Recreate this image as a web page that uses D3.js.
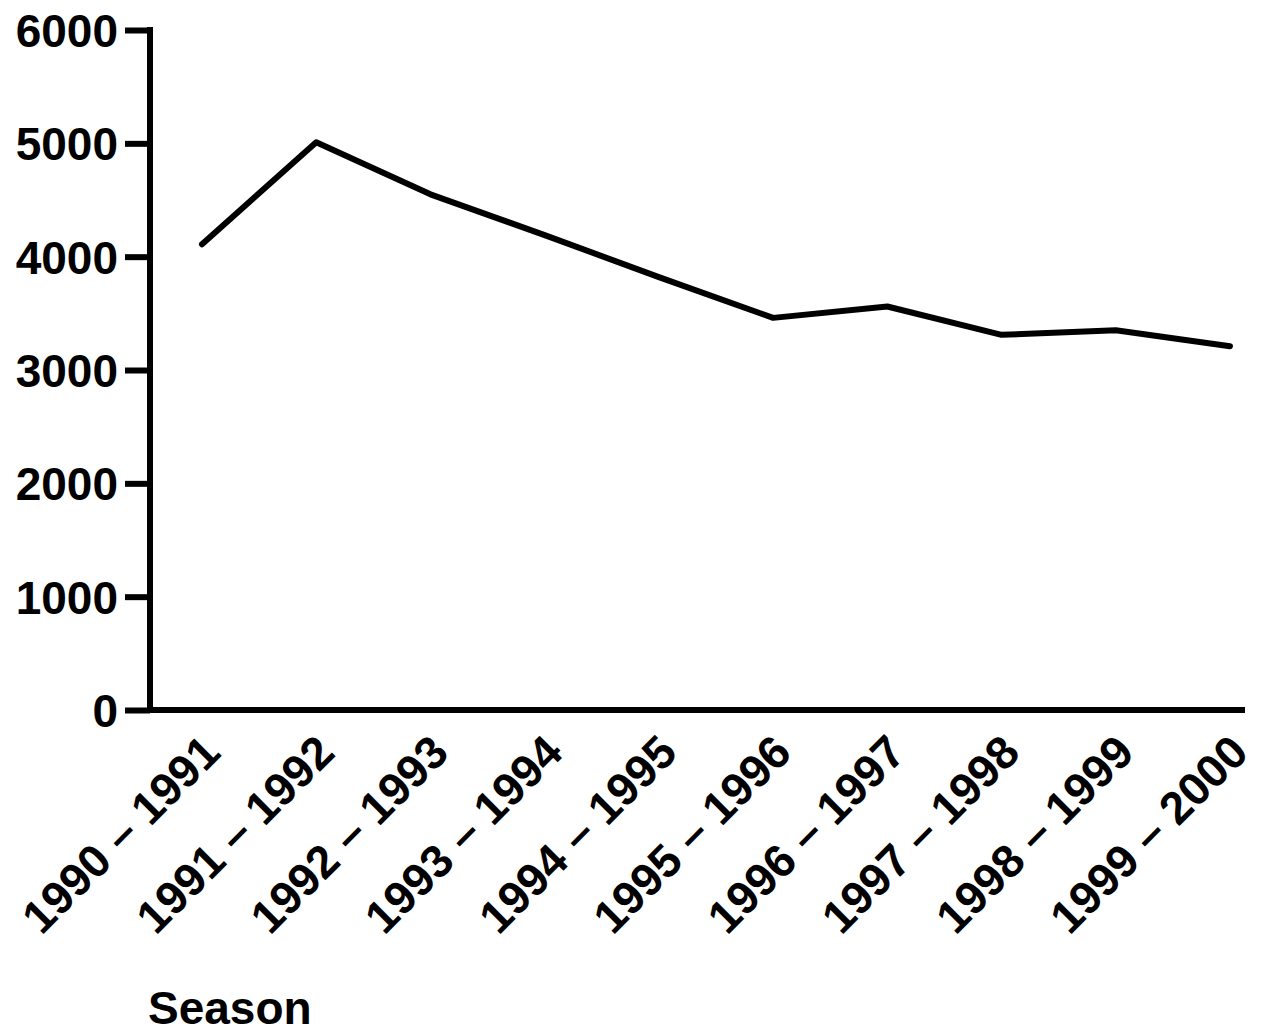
<!DOCTYPE html>
<html>
<head>
<meta charset="utf-8">
<script src="https://cdn.jsdelivr.net/npm/d3@7"></script>
<style>
	body { margin: 0; background: #fff; }
	text { font-family: "Liberation Sans", Arial, sans-serif; font-weight: bold; fill: #000; }
</style>
</head>
<body>
<script>
// seasons along the bottom
const seasons = ["1990 – 1991", "1991 – 1992", "1992 – 1993", "1993 – 1994", "1994 – 1995",
	"1995 – 1996", "1996 – 1997", "1997 – 1998", "1998 – 1999", "1999 – 2000"];
// values
const counts = [4110, 5010, 4550, 4190, 3820, 3460, 3560, 3310, 3350, 3210];
const yTicks = [0, 1000, 2000, 3000, 4000, 5000, 6000];
const xTitle = "Season";

const width = 1266;
const height = 1034;
const axisX = 150;
const plotTop = 30;
const plotBottom = 710;

const svg = d3.select("body")
	.append("svg")
	.attr("width", width)
	.attr("height", height);

const x = d3.scalePoint()
	.domain(seasons)
	.range([202, 1230]);

const y = d3.scaleLinear()
	.domain([0, 6000])
	.range([plotBottom, plotTop]);

// x axis: just the line plus rotated labels
const xAxis = svg.append("g")
	.attr("transform", `translate(0,${plotBottom})`)
	.call(d3.axisBottom(x).tickSize(0).tickPadding(0));
xAxis.select(".domain")
	.attr("d", `M${axisX},0H1245`)
	.attr("stroke", "#000")
	.attr("stroke-width", 6);
xAxis.selectAll(".tick text")
	.attr("font-size", 46)
	.attr("text-anchor", "end")
	.attr("dy", null)
	.attr("y", null)
	.attr("transform", "translate(20,45) rotate(-45)");

// y axis
const yAxis = svg.append("g")
	.attr("transform", `translate(${axisX},0)`)
	.call(d3.axisLeft(y).tickValues(yTicks).tickFormat(d3.format("d"))
		.tickSize(25).tickSizeOuter(0).tickPadding(7));
yAxis.select(".domain")
	.attr("stroke", "#000")
	.attr("stroke-width", 6)
	.attr("d", `M0,${plotBottom + 3}V${plotTop - 3}`);
yAxis.selectAll(".tick line")
	.attr("stroke", "#000")
	.attr("stroke-width", 6);
yAxis.selectAll(".tick text")
	.attr("font-size", 46)
	.attr("dy", "0.36em");

// the line itself
const line = d3.line()
	.x((d, i) => x(seasons[i]))
	.y((d) => y(d));

svg.append("path")
	.datum(counts)
	.attr("fill", "none")
	.attr("stroke", "#000")
	.attr("stroke-width", 6)
	.attr("stroke-linejoin", "round")
	.attr("stroke-linecap", "round")
	.attr("d", line);

svg.append("text")
	.attr("x", 148)
	.attr("y", 1024)
	.attr("font-size", 46)
	.text(xTitle);
</script>
</body>
</html>
